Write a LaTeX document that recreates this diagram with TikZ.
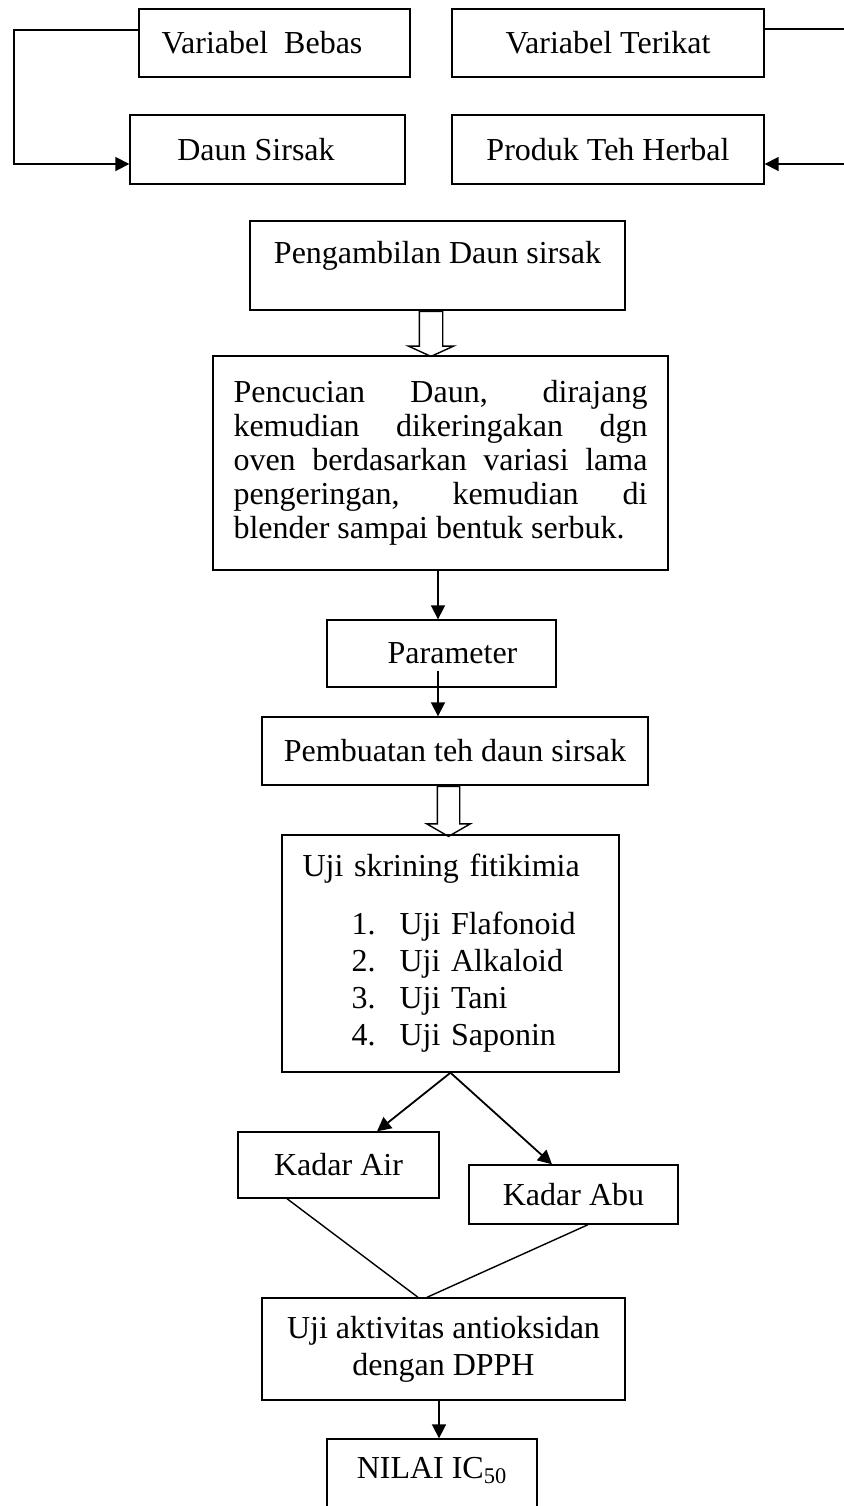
\documentclass[tikz,border=0pt]{standalone}
\usepackage{fontspec}
\setmainfont{Liberation Serif}
\usetikzlibrary{shapes.arrows, arrows.meta, positioning, calc}

\begin{document}
\begin{tikzpicture}[
        x=0.5pt, y=-0.5pt,
        font=\fontsize{16}{17}\selectfont,
        box/.style={rectangle, draw=black, line width=0.7pt, align=center, inner sep=2pt},
        arrow/.style={-{Triangle[length=7pt, width=7pt]}, line width=0.9pt},
        link/.style={line width=0.7pt},
        hollow/.style={single arrow, draw=black, line width=0.7pt, shape border rotate=270, inner ysep=0pt, single arrow head indent=0pt, anchor=tail}
    ]
        \useasboundingbox (0,0) rectangle (844,1506);

        % Variables
        \node[box, minimum width=135.5pt, minimum height=34pt] (vb) at (274.5,43) {Variabel\ \ Bebas\hspace*{12.5pt}};
        \node[box, minimum width=156pt, minimum height=34pt] (vt) at (608,43) {Variabel Terikat};
        \node[box, minimum width=137.5pt, minimum height=34.5pt] (ds) at (267.5,149.5) {Daun Sirsak\hspace*{11.5pt}};
        \node[box, minimum width=156pt, minimum height=34.5pt] (pth) at (608,149.5) {Produk Teh Herbal};

        % Steps
        \node[box, minimum width=187.5pt, minimum height=44.5pt, text height=12pt, text depth=14pt] (pick) at (437.5,265.5) {Pengambilan Daun sirsak};
        \node[box, text width=207pt, align=justify, inner xsep=10.25pt, minimum height=107pt] (wash) at (440.5,463) {Pencucian Daun, dirajang\linebreak kemudian dikeringakan dgn\linebreak oven berdasarkan variasi lama\linebreak pengeringan, kemudian di\linebreak blender sampai bentuk serbuk.};
        \node[box, minimum width=114.5pt, minimum height=33.5pt] (param) at (441.5,653.5) {\hspace*{11pt}Parameter};
        \node[box, minimum width=193pt, minimum height=34pt] (brew) at (455,751) {Pembuatan teh daun sirsak};
        \node[box, text width=148pt, align=left, inner xsep=10.25pt, minimum height=118.5pt] (uji) at (450.5,953.5) {Uji skrining fitikimia\\[12pt]
            \hspace*{24.5pt}\makebox[24pt][l]{1.}Uji Flafonoid\\[1.5pt]
            \hspace*{24.5pt}\makebox[24pt][l]{2.}Uji Alkaloid\\[1.5pt]
            \hspace*{24.5pt}\makebox[24pt][l]{3.}Uji Tani\\[1.5pt]
            \hspace*{24.5pt}\makebox[24pt][l]{4.}Uji Saponin};
        \node[box, minimum width=100.5pt, minimum height=33pt] (air) at (338.5,1165) {Kadar Air};
        \node[box, minimum width=104.5pt, minimum height=29.5pt] (abu) at (573.5,1194.5) {Kadar Abu};
        \node[box, minimum width=181.5pt, minimum height=51pt] (dpph) at (443.5,1349) {Uji aktivitas antioksidan\\[1.5pt] dengan DPPH};
        \node[box, minimum width=105pt, minimum height=40pt, text height=12pt, text depth=12.5pt] (nilai) at (432,1479) {NILAI IC\textsubscript{50}};

        % Hollow arrows
        \node[hollow, inner xsep=5.5pt, minimum height=22.5pt, minimum width=22pt, single arrow head extend=5.5pt, single arrow tip angle=131] (down1) at ([xshift=-3.25pt]pick.south) {};
        \node[hollow, inner xsep=5.25pt, minimum height=25pt, minimum width=21pt, single arrow head extend=5.25pt, single arrow tip angle=120] (down2) at ([xshift=-3.25pt]brew.south) {};

        % Arrows
        \coordinate (bendl) at (14,164);
        \coordinate (bendr) at (850,164);
        \draw[arrow] ([yshift=6.5pt]vb.west) -| (bendl) -- (ds.west |- bendl);
        \draw[arrow] ([yshift=7pt]vt.east) -| (bendr) -- (pth.east |- bendr);
        \draw[arrow] ([xshift=-1.25pt]wash.south) -- ([xshift=-1.25pt]wash.south |- param.north);
        \draw[arrow] ([xshift=-1.75pt, yshift=8.5pt]param.south) -- ([xshift=-1.75pt]param.south |- brew.north);
        \draw[arrow] (uji.south) -- ([xshift=19.25pt]air.north);
        \draw[arrow] (uji.south) -- ([xshift=-10.75pt]abu.north);
        \draw[link] ([xshift=-25.75pt]air.south) -- ([xshift=-12.75pt]dpph.north);
        \draw[link] ([xshift=7.25pt]abu.south) -- ([xshift=-8.25pt]dpph.north);
        \draw[arrow] ([xshift=-2.25pt]dpph.south) -- ([xshift=-2.25pt]dpph.south |- nilai.north);
    \end{tikzpicture}
\end{document}
